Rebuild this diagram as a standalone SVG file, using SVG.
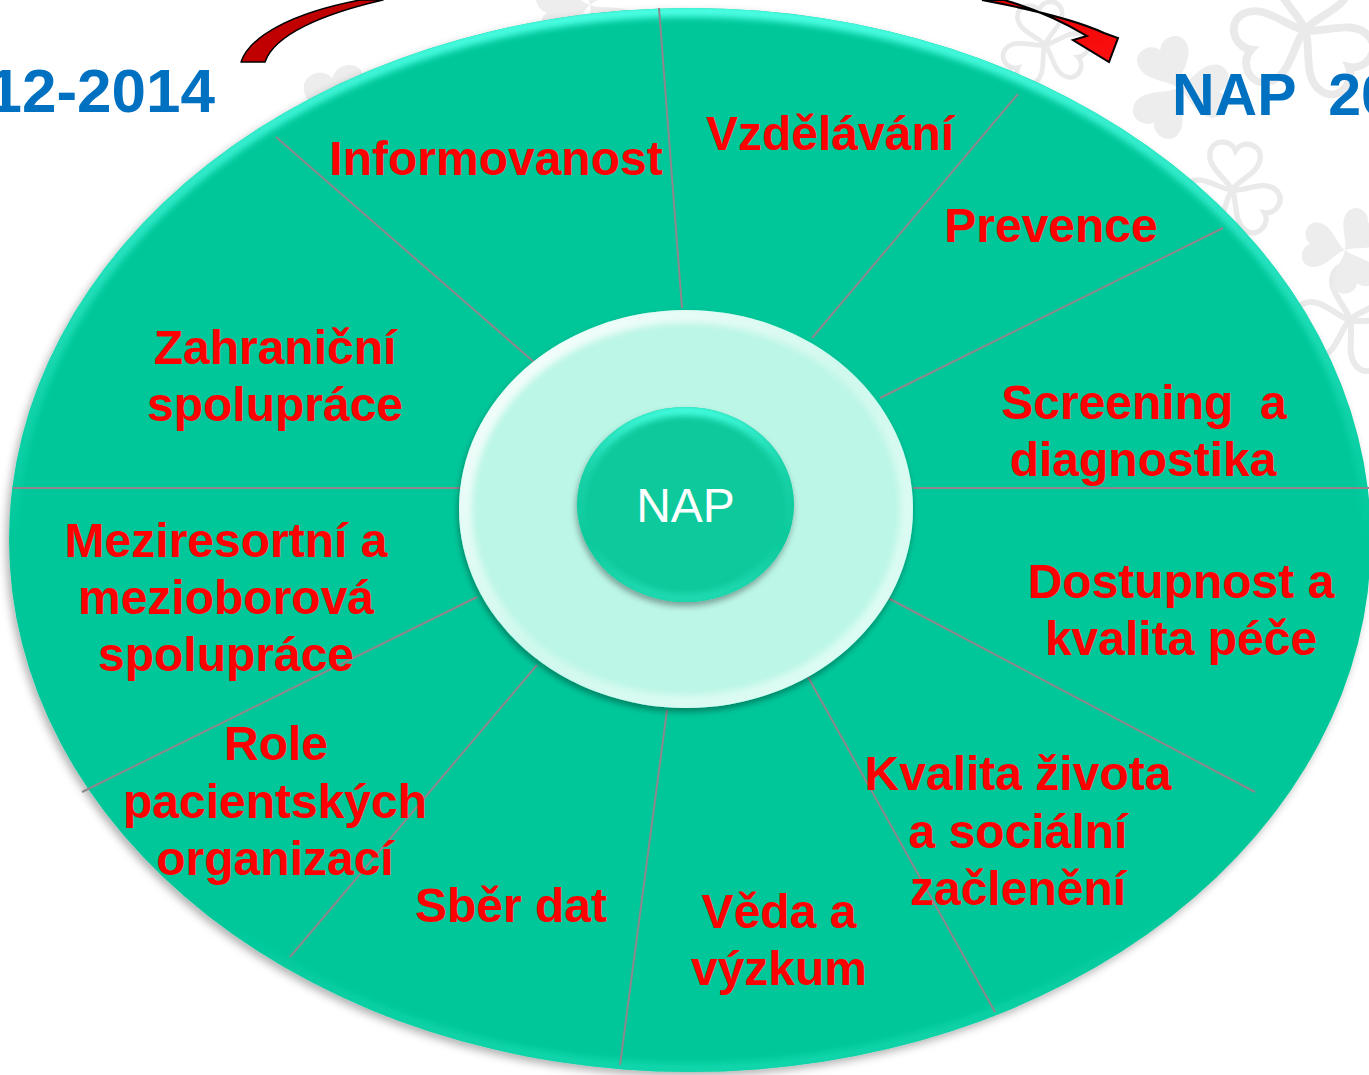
<svg xmlns="http://www.w3.org/2000/svg" xmlns:xlink="http://www.w3.org/1999/xlink" width="1369" height="1075" viewBox="0 0 1369 1075">
<style>
.lbl{font-family:"Liberation Sans",Arial,sans-serif;font-weight:bold;font-size:48px;fill:#FF0000;text-anchor:middle}
.blue{font-family:"Liberation Sans",Arial,sans-serif;font-weight:bold;fill:#0070C0}
.spoke{stroke:#8E878B;stroke-width:2;fill:none}
.clf{fill:#EDEDED}
.clo{fill:none;stroke:#EAEAEA;stroke-width:6}
</style>
<defs>
<g id="clover">
<path id="leaf" d="M0,0 C-6,-12 -30,-22 -28,-40 C-26,-55 -6,-56 0,-44 C6,-56 26,-55 28,-40 C30,-22 6,-12 0,0 Z"/>
<use href="#leaf" transform="rotate(120)"/>
<use href="#leaf" transform="rotate(240)"/>
</g>
<clipPath id="cOuter"><ellipse cx="690" cy="540" rx="681" ry="532"/></clipPath>
<clipPath id="cRing"><ellipse cx="686" cy="509" rx="227" ry="199"/></clipPath>
<clipPath id="cNap"><ellipse cx="685.5" cy="504.5" rx="108.5" ry="97.5"/></clipPath>
<linearGradient id="rimTop" x1="0" y1="0" x2="0" y2="1">
<stop offset="0" stop-color="#4CFFE4" stop-opacity="1"/>
<stop offset="0.25" stop-color="#3CF2D4" stop-opacity="0.6"/>
<stop offset="0.5" stop-color="#3CF2D4" stop-opacity="0"/>
<stop offset="0.85" stop-color="#20E0B8" stop-opacity="0"/>
<stop offset="1" stop-color="#25E6BE" stop-opacity="0.5"/>
</linearGradient>
<linearGradient id="ringRim" x1="0" y1="0" x2="1" y2="1">
<stop offset="0" stop-color="#FFFFFF" stop-opacity="1"/>
<stop offset="0.5" stop-color="#FFFFFF" stop-opacity="0.3"/>
<stop offset="1" stop-color="#E8FFF8" stop-opacity="0.8"/>
</linearGradient>
<linearGradient id="napRim" x1="0" y1="0" x2="0" y2="1">
<stop offset="0" stop-color="#45FFE2" stop-opacity="1"/>
<stop offset="0.35" stop-color="#30E8C6" stop-opacity="0.3"/>
<stop offset="0.7" stop-color="#30E8C6" stop-opacity="0"/>
<stop offset="1" stop-color="#2BE3BE" stop-opacity="0.7"/>
</linearGradient>
<linearGradient id="arrowR" x1="0" y1="0" x2="1" y2="1">
<stop offset="0" stop-color="#E00000"/>
<stop offset="1" stop-color="#FF1010"/>
</linearGradient>
<filter id="blur3" x="-5%" y="-5%" width="110%" height="110%"><feGaussianBlur stdDeviation="3"/></filter>
<filter id="shadow" x="-10%" y="-10%" width="120%" height="125%"><feDropShadow dx="-3" dy="4" stdDeviation="4" flood-color="#000" flood-opacity="0.3"/></filter>
<filter id="shadowS" x="-10%" y="-10%" width="120%" height="125%"><feDropShadow dx="-1" dy="4" stdDeviation="3" flood-color="#000" flood-opacity="0.35"/></filter>
</defs>

<rect width="1369" height="1075" fill="#FFFFFF"/>

<g id="background">
<use href="#clover" class="clf" transform="translate(345,125) rotate(-15) scale(1.1)"/>
<use href="#clover" class="clf" transform="translate(590,5) rotate(20) scale(1)"/>
<use href="#clover" class="clf" transform="translate(1178,88) rotate(-25) scale(0.95)"/>
<use href="#clover" class="clo" transform="translate(1305,30) rotate(10) scale(1.3)"/>
<use href="#clover" class="clo" transform="translate(1232,190) rotate(5) scale(0.9)"/>
<use href="#clover" class="clo" transform="translate(1045,45) rotate(-10) scale(0.8)"/>
<use href="#clover" class="clo" transform="translate(1350,320) rotate(15) scale(1)"/>
<use href="#clover" class="clf" transform="translate(1345,250) rotate(40) scale(0.8)"/>
</g>

<g id="arrows">
<path d="M241,62 C250,36 292,13 360,0 L383,0 C322,14 274,35 265,62 Z" fill="#C00000" stroke="#000" stroke-width="1.5" stroke-linejoin="round"/>
<path d="M982,0 C1040,11 1080,22 1104,33 L1118,38 L1109,62 L1073,40 L1087,36 C1060,20 1032,8 1004,0 Z" fill="url(#arrowR)" stroke="#000" stroke-width="2" stroke-linejoin="miter"/>
</g>

<g id="title-left">
<text class="blue" x="215" y="112" font-size="62" text-anchor="end">12-2014</text>
</g>
<g id="title-right">
<text class="blue" x="1172" y="115" font-size="59" xml:space="preserve">NAP  20</text>
</g>

<g id="outer-ellipse">
<ellipse cx="690" cy="540" rx="681" ry="532" fill="#06C79A" filter="url(#shadow)"/>
<g clip-path="url(#cOuter)">
<ellipse cx="690" cy="540" rx="678" ry="529" fill="none" stroke="url(#rimTop)" stroke-width="12" filter="url(#blur3)"/>
</g>
</g>

<g id="connectors">
<line class="spoke" x1="682" y1="308" x2="659" y2="8"/>
<line class="spoke" x1="812" y1="338" x2="1018" y2="94"/>
<line class="spoke" x1="880" y1="398" x2="1223" y2="228"/>
<line class="spoke" x1="913" y1="488" x2="1372" y2="488"/>
<line class="spoke" x1="888" y1="598" x2="1255" y2="792"/>
<line class="spoke" x1="808" y1="677" x2="995" y2="1012"/>
<line class="spoke" x1="667" y1="710" x2="620" y2="1065"/>
<line class="spoke" x1="537" y1="665" x2="290" y2="957"/>
<line class="spoke" x1="477" y1="597" x2="82" y2="792"/>
<line class="spoke" x1="460" y1="488" x2="13" y2="488"/>
<line class="spoke" x1="535" y1="363" x2="276" y2="137"/>
</g>

<g id="ring">
<ellipse cx="686" cy="509" rx="227" ry="199" fill="#BBF6E6" filter="url(#shadowS)"/>
<g clip-path="url(#cRing)">
<ellipse cx="686" cy="509" rx="222" ry="194" fill="none" stroke="url(#ringRim)" stroke-width="16" filter="url(#blur3)"/>
</g>
</g>

<g id="node-nap">
<ellipse cx="685.5" cy="504.5" rx="108.5" ry="97.5" fill="#08C99B" filter="url(#shadowS)"/>
<g clip-path="url(#cNap)">
<ellipse cx="685.5" cy="504.5" rx="105" ry="94" fill="none" stroke="url(#napRim)" stroke-width="10" filter="url(#blur3)"/>
</g>
<text x="685.5" y="522" font-family="'Liberation Sans',Arial,sans-serif" font-size="48" fill="#FFFFFF" text-anchor="middle">NAP</text>
</g>

<g id="node-informovanost"><text class="lbl" x="496" y="175">Informovanost</text></g>
<g id="node-vzdelavani"><text class="lbl" x="830" y="150">Vzdělávání</text></g>
<g id="node-prevence"><text class="lbl" x="1051" y="242">Prevence</text></g>
<g id="node-screening"><text class="lbl" xml:space="preserve"><tspan x="1144" y="419">Screening  a</tspan><tspan x="1143" y="476">diagnostika</tspan></text></g>
<g id="node-dostupnost"><text class="lbl"><tspan x="1181" y="598">Dostupnost a</tspan><tspan x="1181" y="655">kvalita péče</tspan></text></g>
<g id="node-kvalita"><text class="lbl"><tspan x="1018" y="790">Kvalita života</tspan><tspan x="1018" y="848">a sociální</tspan><tspan x="1018" y="905">začlenění</tspan></text></g>
<g id="node-veda"><text class="lbl"><tspan x="779" y="928">Věda a</tspan><tspan x="779" y="985">výzkum</tspan></text></g>
<g id="node-sber"><text class="lbl" x="511" y="922">Sběr dat</text></g>
<g id="node-role"><text class="lbl"><tspan x="276" y="760">Role</tspan><tspan x="275" y="818">pacientských</tspan><tspan x="275" y="875">organizací</tspan></text></g>
<g id="node-meziresortni"><text class="lbl"><tspan x="226" y="557">Meziresortní a</tspan><tspan x="226" y="614">mezioborová</tspan><tspan x="226" y="671">spolupráce</tspan></text></g>
<g id="node-zahranicni"><text class="lbl"><tspan x="275" y="364">Zahraniční</tspan><tspan x="275" y="421">spolupráce</tspan></text></g>
</svg>
